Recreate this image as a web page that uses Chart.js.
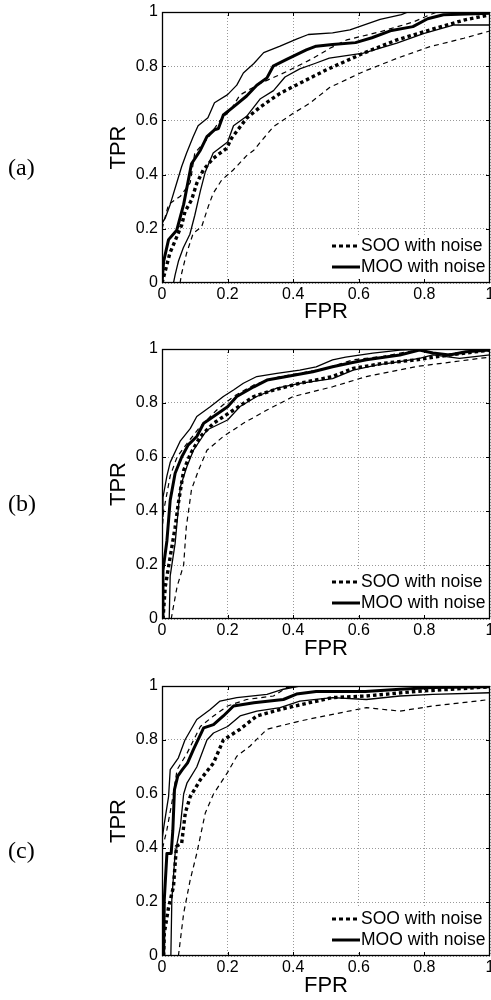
<!DOCTYPE html>
<html>
<head>
<meta charset="utf-8">
<script src="https://cdn.jsdelivr.net/npm/chart.js@4"></script>
<style>
  html, body { margin: 0; padding: 0; background: #fff; overflow: hidden; }
  .panel { position: absolute; left: 0; width: 491px; height: 330px; }
  .tag { position: absolute; left: 8px; font: 24px "Liberation Serif", "Times New Roman", serif; line-height: 24px; }
</style>
</head>
<body>
<div class="panel" style="top:0px"><canvas id="chartA" width="491" height="330"></canvas></div>
<div class="panel" style="top:337px"><canvas id="chartB" width="491" height="330"></canvas></div>
<div class="panel" style="top:674px"><canvas id="chartC" width="491" height="330"></canvas></div>
<div class="tag" style="top:155px">(a)</div>
<div class="tag" style="top:491px">(b)</div>
<div class="tag" style="top:838px">(c)</div>
<script>
// axis ticks
var tickValues = [0, 0.2, 0.4, 0.6, 0.8, 1];
var tickLabels = ['0', '0.2', '0.4', '0.6', '0.8', '1'];
var legendLabels = ['SOO with noise', 'MOO with noise'];

// panel (a) : [FPR, TPR]
var aSooMean = [[0,0],[0.009,0.04],[0.024,0.11],[0.045,0.17],[0.06,0.214],[0.07,0.263],[0.09,0.306],[0.106,0.368],[0.126,0.417],[0.156,0.46],[0.197,0.497],[0.212,0.534],[0.258,0.608],[0.3,0.65],[0.36,0.7],[0.42,0.737],[0.5,0.786],[0.614,0.848],[0.716,0.897],[0.817,0.934],[0.92,0.97],[1,0.99]];
var aSooUp = [[0,0.2],[0.02,0.29],[0.056,0.32],[0.086,0.37],[0.1,0.48],[0.137,0.53],[0.177,0.6],[0.208,0.637],[0.238,0.694],[0.3,0.737],[0.38,0.78],[0.46,0.829],[0.512,0.866],[0.563,0.897],[0.665,0.927],[0.766,0.963],[0.817,0.99],[0.84,1],[1,1]];
var aSooLo = [[0.055,0],[0.06,0.036],[0.075,0.11],[0.095,0.183],[0.121,0.208],[0.141,0.282],[0.156,0.331],[0.182,0.38],[0.217,0.417],[0.258,0.47],[0.28,0.49],[0.3,0.52],[0.34,0.577],[0.4,0.626],[0.45,0.663],[0.512,0.722],[0.614,0.78],[0.716,0.829],[0.817,0.872],[0.92,0.903],[1,0.93]];
var aMooMean = [[0,0],[0.005,0.08],[0.02,0.16],[0.045,0.195],[0.066,0.29],[0.09,0.44],[0.117,0.49],[0.137,0.54],[0.16,0.565],[0.172,0.57],[0.187,0.62],[0.218,0.65],[0.258,0.69],[0.289,0.73],[0.32,0.757],[0.339,0.8],[0.38,0.825],[0.44,0.86],[0.47,0.874],[0.52,0.88],[0.59,0.887],[0.64,0.905],[0.7,0.932],[0.765,0.946],[0.81,0.975],[0.858,0.99],[1,0.995]];
var aMooUp = [[0,0.22],[0.01,0.24],[0.025,0.29],[0.045,0.37],[0.06,0.43],[0.075,0.48],[0.095,0.54],[0.11,0.58],[0.14,0.61],[0.16,0.665],[0.2,0.695],[0.228,0.73],[0.248,0.775],[0.28,0.81],[0.31,0.85],[0.36,0.874],[0.41,0.9],[0.446,0.917],[0.52,0.923],[0.573,0.934],[0.665,0.973],[0.73,0.99],[0.75,1],[1,1]];
var aMooLo = [[0.035,0],[0.04,0.03],[0.05,0.08],[0.065,0.13],[0.085,0.18],[0.1,0.25],[0.117,0.34],[0.132,0.41],[0.156,0.48],[0.2,0.52],[0.218,0.58],[0.258,0.615],[0.3,0.68],[0.34,0.71],[0.375,0.76],[0.42,0.79],[0.466,0.81],[0.51,0.83],[0.614,0.848],[0.716,0.885],[0.797,0.92],[0.888,0.952],[1,0.952]];

// panel (b)
var bSooMean = [[0.003,0],[0.01,0.12],[0.025,0.23],[0.04,0.34],[0.05,0.43],[0.066,0.55],[0.086,0.61],[0.117,0.676],[0.157,0.725],[0.218,0.774],[0.28,0.824],[0.34,0.848],[0.42,0.873],[0.52,0.898],[0.583,0.928],[0.674,0.947],[0.775,0.96],[0.876,0.978],[1,0.996]];
var bSooUp = [[0,0.32],[0.005,0.4],[0.025,0.53],[0.046,0.6],[0.076,0.65],[0.117,0.713],[0.167,0.774],[0.218,0.824],[0.28,0.867],[0.36,0.898],[0.42,0.91],[0.5,0.928],[0.583,0.96],[0.674,0.973],[0.775,0.996],[0.8,1],[1,1]];
var bSooLo = [[0.028,0],[0.046,0.12],[0.066,0.2],[0.074,0.34],[0.09,0.48],[0.111,0.55],[0.137,0.625],[0.187,0.676],[0.248,0.725],[0.32,0.774],[0.4,0.824],[0.52,0.86],[0.623,0.898],[0.775,0.935],[1,0.97]];
var bMooMean = [[0,0],[0.003,0.18],[0.015,0.29],[0.025,0.44],[0.04,0.54],[0.06,0.6],[0.08,0.645],[0.106,0.676],[0.127,0.725],[0.157,0.75],[0.2,0.786],[0.228,0.824],[0.28,0.86],[0.32,0.885],[0.38,0.898],[0.46,0.916],[0.52,0.934],[0.57,0.947],[0.623,0.96],[0.725,0.978],[0.785,0.996],[0.826,0.985],[0.876,0.978],[0.927,0.99],[1,0.996]];
var bMooUp = [[0,0.38],[0.003,0.45],[0.015,0.53],[0.025,0.58],[0.056,0.66],[0.086,0.705],[0.106,0.75],[0.147,0.786],[0.187,0.824],[0.218,0.848],[0.248,0.873],[0.289,0.898],[0.35,0.91],[0.42,0.922],[0.47,0.934],[0.52,0.96],[0.56,0.97],[0.643,0.985],[0.725,0.996],[0.8,1],[1,1]];
var bMooLo = [[0.022,0],[0.025,0.16],[0.04,0.28],[0.056,0.49],[0.076,0.565],[0.096,0.625],[0.137,0.7],[0.2,0.737],[0.238,0.787],[0.289,0.824],[0.35,0.855],[0.42,0.873],[0.52,0.89],[0.583,0.922],[0.653,0.94],[0.725,0.953],[0.785,0.965],[0.826,0.978],[0.907,0.965],[1,0.978]];

// panel (c)
var cSooMean = [[0.005,0],[0.007,0.084],[0.02,0.18],[0.035,0.257],[0.044,0.406],[0.06,0.418],[0.071,0.53],[0.086,0.59],[0.117,0.653],[0.157,0.715],[0.187,0.8],[0.238,0.84],[0.289,0.889],[0.36,0.913],[0.42,0.93],[0.52,0.957],[0.623,0.963],[0.775,0.98],[1,0.997]];
var cSooUp = [[0,0.4],[0.003,0.406],[0.015,0.468],[0.03,0.567],[0.046,0.69],[0.076,0.75],[0.117,0.85],[0.157,0.889],[0.2,0.926],[0.258,0.95],[0.34,0.963],[0.38,0.994],[0.42,1],[1,1]];
var cSooLo = [[0.05,0],[0.066,0.158],[0.086,0.282],[0.106,0.38],[0.132,0.53],[0.157,0.6],[0.2,0.68],[0.228,0.74],[0.268,0.777],[0.32,0.84],[0.42,0.87],[0.52,0.895],[0.623,0.92],[0.725,0.907],[0.826,0.926],[1,0.95]];
var cMooMean = [[0.005,0],[0.007,0.21],[0.015,0.38],[0.028,0.38],[0.033,0.465],[0.038,0.616],[0.048,0.666],[0.062,0.69],[0.078,0.715],[0.096,0.765],[0.127,0.845],[0.157,0.857],[0.187,0.889],[0.218,0.926],[0.28,0.938],[0.37,0.95],[0.41,0.97],[0.47,0.98],[0.62,0.98],[0.725,0.988],[0.826,0.994],[1,0.997]];
var cMooUp = [[0,0.43],[0.007,0.49],[0.02,0.59],[0.025,0.69],[0.05,0.734],[0.07,0.8],[0.106,0.876],[0.147,0.913],[0.177,0.944],[0.228,0.957],[0.32,0.969],[0.37,0.988],[0.42,1],[1,1]];
var cMooLo = [[0.027,0],[0.03,0.21],[0.04,0.38],[0.056,0.48],[0.066,0.6],[0.076,0.64],[0.106,0.7],[0.137,0.8],[0.157,0.826],[0.2,0.85],[0.238,0.889],[0.289,0.907],[0.36,0.92],[0.42,0.944],[0.52,0.957],[0.623,0.95],[0.725,0.963],[0.826,0.969],[1,0.975]];

var sansFont = '"Liberation Sans", Arial, Helvetica, sans-serif';

function curve(points, width, dash) {
    return {
        data: points.map(function (p) { return { x: p[0], y: p[1] }; }),
        borderColor: '#000',
        borderWidth: width,
        borderDash: dash,
        borderCapStyle: 'butt',
        borderJoinStyle: 'round',
        pointRadius: 0,
        fill: false,
        tension: 0
    };
}

// box, inner tick marks and legend, matlab style
var boxAndLegend = {
    id: 'boxAndLegend',
    afterDatasetsDraw: function (chart) {
        var a = chart.chartArea;
        var c = chart.ctx;
        var sx = chart.scales.x, sy = chart.scales.y;
        c.save();
        c.strokeStyle = '#000';
        c.lineWidth = 1;
        c.setLineDash([]);
        c.beginPath();
        tickValues.slice(1, -1).forEach(function (v) {
            var px = Math.round(sx.getPixelForValue(v)) + 0.5;
            c.moveTo(px, a.bottom); c.lineTo(px, a.bottom - 4);
            c.moveTo(px, a.top); c.lineTo(px, a.top + 4);
            var py = Math.round(sy.getPixelForValue(v)) + 0.5;
            c.moveTo(a.left, py); c.lineTo(a.left + 4, py);
            c.moveTo(a.right, py); c.lineTo(a.right - 4, py);
        });
        c.stroke();

        // legend
        c.fillStyle = '#fff';
        c.fillRect(a.right - 164, a.bottom - 48, 161, 44);
        c.fillStyle = '#000';
        c.font = '17.5px ' + sansFont;
        c.textAlign = 'left';
        c.textBaseline = 'middle';
        var rows = [a.bottom - 37, a.bottom - 16];
        c.lineWidth = 3;
        c.setLineDash([4, 3]);
        c.beginPath();
        c.moveTo(a.right - 158, rows[0]); c.lineTo(a.right - 130, rows[0]);
        c.stroke();
        c.setLineDash([]);
        c.beginPath();
        c.moveTo(a.right - 158, rows[1]); c.lineTo(a.right - 130, rows[1]);
        c.stroke();
        c.fillText(legendLabels[0], a.right - 129, rows[0]);
        c.fillText(legendLabels[1], a.right - 129, rows[1]);

        c.lineWidth = 1.3;
        c.strokeRect(a.left + 0.5, a.top + 0.5, a.right - a.left - 1, a.bottom - a.top - 1);
        c.restore();
    }
};

function makePanel(id, plotH, s) {
    var ctx = document.getElementById(id).getContext('2d');
    var axisFont = { family: sansFont, size: 16 };
    var titleFont = { family: sansFont, size: 22 };
    return new Chart(ctx, {
        type: 'line',
        data: {
            datasets: [
                curve(s.sooUp, 1.2, [5, 4]),
                curve(s.sooLo, 1.2, [5, 4]),
                curve(s.mooUp, 1.3, []),
                curve(s.mooLo, 1.3, []),
                curve(s.sooMean, 3.4, [3.5, 3]),
                curve(s.mooMean, 3, [])
            ]
        },
        options: {
            responsive: false,
            animation: false,
            events: [],
            layout: { padding: { left: 0, right: 1, top: 12, bottom: 0 } },
            plugins: { legend: { display: false }, tooltip: { enabled: false } },
            scales: {
                x: {
                    type: 'linear', min: 0, max: 1,
                    afterBuildTicks: function (sc) { sc.ticks = tickValues.map(function (v) { return { value: v }; }); },
                    afterFit: function (sc) { sc.height = 330 - 12 - plotH; sc.paddingLeft = 0; sc.paddingRight = 0; },
                    ticks: { color: '#000', font: axisFont, padding: 2, maxRotation: 0,
                        callback: function (v, i) { return tickLabels[i]; } },
                    grid: { color: '#999', lineWidth: 1, drawTicks: false },
                    border: { display: false, dash: [1, 2] },
                    title: { display: true, text: 'FPR', color: '#000', font: titleFont, padding: { top: 0, bottom: 5 } }
                },
                y: {
                    type: 'linear', min: 0, max: 1,
                    afterBuildTicks: function (sc) { sc.ticks = tickValues.map(function (v) { return { value: v }; }); },
                    afterFit: function (sc) { sc.width = 162; sc.paddingTop = 0; sc.paddingBottom = 0; },
                    ticks: { color: '#000', font: axisFont, padding: 4,
                        callback: function (v, i) { return tickLabels[i]; } },
                    grid: { color: '#999', lineWidth: 1, drawTicks: false },
                    border: { display: false, dash: [1, 2] },
                    title: { display: true, text: 'TPR', color: '#000', font: titleFont, padding: { top: 106, bottom: 0 } }
                }
            }
        },
        plugins: [boxAndLegend]
    });
}

makePanel('chartA', 271, { sooMean: aSooMean, sooUp: aSooUp, sooLo: aSooLo, mooMean: aMooMean, mooUp: aMooUp, mooLo: aMooLo });
makePanel('chartB', 270, { sooMean: bSooMean, sooUp: bSooUp, sooLo: bSooLo, mooMean: bMooMean, mooUp: bMooUp, mooLo: bMooLo });
makePanel('chartC', 270, { sooMean: cSooMean, sooUp: cSooUp, sooLo: cSooLo, mooMean: cMooMean, mooUp: cMooUp, mooLo: cMooLo });
</script>
</body>
</html>
